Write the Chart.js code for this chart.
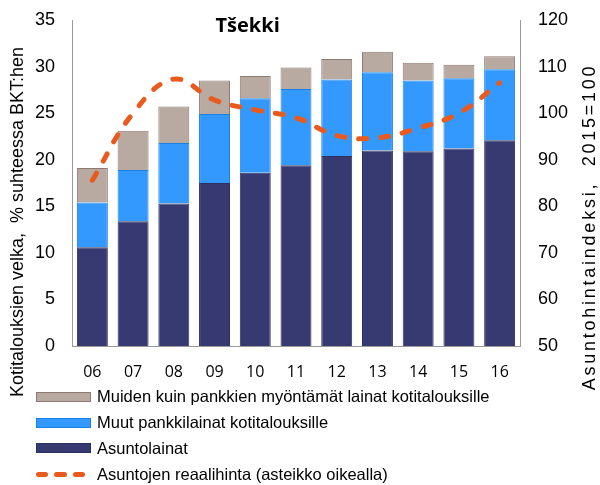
<!DOCTYPE html>
<html>
<head>
<meta charset="utf-8">
<script src="https://cdn.jsdelivr.net/npm/chart.js@4/dist/chart.umd.min.js"></script>
<style>
  body { margin: 0; background: #fff; }
  #wrap { position: relative; width: 600px; height: 485px; }
  #legend { position: absolute; left: 36px; top: 384px; font: 16.5px "Liberation Sans", Arial, sans-serif; color: #000; }
  .row { height: 25.8px; display: flex; align-items: center; }
  .box { width: 53px; height: 8px; border: 1px solid; margin-right: 6px; }
  .dash { display: flex; width: 55px; margin-right: 6px; }
  .dash span { width: 14px; height: 5px; border-radius: 2.5px; margin-right: 6px; }
</style>
</head>
<body>
<div id="wrap">
  <canvas id="chart" width="600" height="485"></canvas>
  <div id="legend"></div>
</div>
<script>
var years = ['06', '07', '08', '09', '10', '11', '12', '13', '14', '15', '16'];

// % suhteessa BKT:hen, pinotut osat
var asuntolainat = [10.6, 13.4, 15.3, 17.5, 18.6, 19.4, 20.4, 21.0, 20.9, 21.2, 22.1];
var muutPankkilainat = [4.8, 5.5, 6.5, 7.4, 8.0, 8.2, 8.2, 8.4, 7.6, 7.55, 7.6];
var muutLainat = [3.7, 4.2, 3.9, 3.6, 2.4, 2.3, 2.2, 2.2, 1.9, 1.45, 1.4];

// 2015=100, oikea asteikko
var reaalihinta = [85.6, 100, 107.3, 102.8, 100.7, 99, 95.2, 94.7, 96.8, 100, 106.5];

var chartTitle = 'Tšekki';
var leftTitle = 'Kotitalouksien velka,  % suhteessa BKT:hen';
var rightTitle = 'Asuntohintaindeksi,  2015=100';

var tickFont = {family: '"Liberation Sans", Arial, sans-serif', size: 18};

var axisTitles = {
    id: 'axisTitles',
    afterDraw: function (chart) {
        var ctx = chart.ctx;
        var a = chart.chartArea;
        var midY = (a.top + a.bottom) / 2;
        ctx.save();
        ctx.fillStyle = '#000';
        ctx.textAlign = 'center';

        // otsikko
        ctx.font = 'bold 20px "Open Sans", sans-serif';
        ctx.textBaseline = 'alphabetic';
        ctx.fillText(chartTitle, a.left + (a.right - a.left) * 0.392, a.top + 12);

        ctx.textBaseline = 'middle';
        ctx.font = '18px "Liberation Sans", Arial, sans-serif';

        // vasen
        ctx.save();
        ctx.translate(a.left - 54, midY + 39);
        ctx.rotate(-Math.PI / 2);
        ctx.fillText(leftTitle, 0, 0);
        ctx.restore();

        // oikea
        ctx.save();
        ctx.translate(a.right + 70, midY + 44);
        ctx.rotate(-Math.PI / 2);
        ctx.letterSpacing = '2.75px';
        ctx.fillText(rightTitle, 0, 0);
        ctx.restore();

        ctx.restore();
    }
};

// akselin tekstit eivät saa kaventaa piirtoaluetta
function fixY(width) {
    return function (s) {
        s.width = width;
        s.paddingTop = 0;
        s.paddingBottom = 0;
    };
}

var ctx = document.getElementById('chart').getContext('2d');
var chart = new Chart(ctx, {
    type: 'bar',
    data: {
        labels: years,
        datasets: [{
            label: 'Asuntolainat',
            data: asuntolainat,
            backgroundColor: '#363A70',
            borderColor: '#2C3060',
            borderWidth: 1,
            order: 1
        }, {
            label: 'Muut pankkilainat kotitalouksille',
            data: muutPankkilainat,
            backgroundColor: '#3399FF',
            borderColor: '#1B80E3',
            borderWidth: 1,
            order: 1
        }, {
            label: 'Muiden kuin pankkien myöntämät lainat kotitalouksille',
            data: muutLainat,
            backgroundColor: '#B8A9A1',
            borderColor: '#8E7A70',
            borderWidth: 1,
            order: 1
        }, {
            type: 'line',
            label: 'Asuntojen reaalihinta (asteikko oikealla)',
            data: reaalihinta,
            yAxisID: 'y1',
            borderColor: '#E95A1F',
            borderWidth: 5,
            borderDash: [8, 14],
            borderCapStyle: 'round',
            tension: 0.4,
            pointRadius: 0,
            fill: false,
            order: 0
        }]
    },
    options: {
        responsive: false,
        animation: false,
        events: [],
        layout: {padding: {top: 20, bottom: 99, left: 0, right: 0}},
        datasets: {bar: {categoryPercentage: 1, barPercentage: 0.76}},
        plugins: {legend: {display: false}, tooltip: {enabled: false}},
        scales: {
            x: {
                stacked: true,
                grid: {display: false, drawTicks: false},
                border: {color: '#9A9A9A'},
                ticks: {color: '#000', padding: 17, font: {family: '"Open Sans", sans-serif', size: 16}},
                afterFit: function (s) { s.height = 40; }
            },
            y: {
                stacked: true,
                position: 'left',
                min: 0,
                max: 35,
                grid: {display: false, drawTicks: false},
                border: {color: '#9A9A9A'},
                ticks: {stepSize: 5, color: '#000', padding: 17, font: tickFont},
                afterFit: fixY(72)
            },
            y1: {
                position: 'right',
                min: 50,
                max: 120,
                grid: {display: false, drawTicks: false},
                border: {color: '#9A9A9A'},
                ticks: {stepSize: 10, color: '#000', padding: 18, font: tickFont},
                afterFit: fixY(80)
            }
        }
    },
    plugins: [axisTitles]
});

// selite: sama järjestys kuin kuvassa
var legendOrder = [2, 1, 0, 3];
var legendHtml = '';
legendOrder.forEach(function (i) {
    var ds = chart.data.datasets[i];
    var sample;
    if (ds.type === 'line') {
        sample = '<div class="dash"><span style="background:' + ds.borderColor + '"></span><span style="background:' + ds.borderColor + '"></span><span style="background:' + ds.borderColor + '"></span></div>';
    } else {
        sample = '<div class="box" style="background:' + ds.backgroundColor + ';border-color:' + ds.borderColor + '"></div>';
    }
    legendHtml += '<div class="row">' + sample + '<span>' + ds.label + '</span></div>';
});
document.getElementById('legend').innerHTML = legendHtml;
</script>
</body>
</html>
